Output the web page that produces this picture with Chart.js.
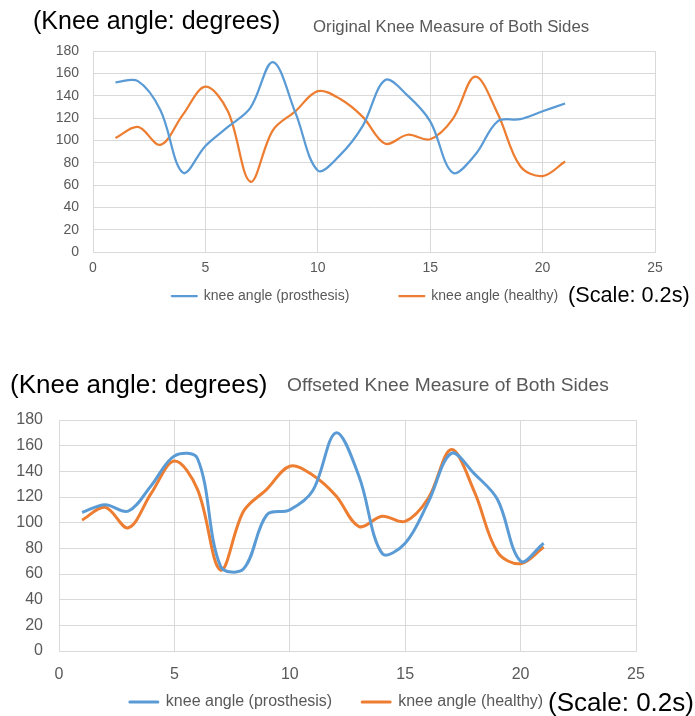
<!DOCTYPE html>
<html>
<head>
<meta charset="utf-8">
<title>Knee angle</title>
<script src="https://cdn.jsdelivr.net/npm/chart.js@4.4.1/dist/chart.umd.min.js"></script>
<style>
  html, body { margin: 0; background: #fff; overflow: hidden; }
  #page { position: relative; width: 695px; height: 716px; overflow: hidden; background: #fff;
          font-family: "Liberation Sans", Arial, sans-serif; }
  #page canvas { position: absolute; left: 0; }
  .lbl { position: absolute; white-space: nowrap; line-height: 1; }
</style>
</head>
<body>
<div id="page">
  <canvas id="chart1" width="695" height="356" style="top:0"></canvas>
  <canvas id="chart2" width="695" height="358" style="top:385px"></canvas>

  <div class="lbl" style="left:33px; top:8px; font-size:25px; color:#000">(Knee angle: degrees)</div>
  <div class="lbl" style="left:313px; top:19px; font-size:16.8px; color:#595959">Original Knee Measure of Both Sides</div>
  <div class="lbl" style="left:568px; top:284px; font-size:21.7px; color:#000">(Scale: 0.2s)</div>

  <div class="lbl" style="left:10px; top:371px; font-size:26px; color:#000">(Knee angle: degrees)</div>
  <div class="lbl" style="left:287px; top:375px; font-size:19.2px; color:#595959">Offseted Knee Measure of Both Sides</div>
  <div class="lbl" style="left:548px; top:689px; font-size:26px; color:#000">(Scale: 0.2s)</div>
</div>

<script>
"use strict";

// sample index (x axis, one step = 0.2 s)
const steps = [1, 2, 3, 4, 5, 6, 7, 8, 9, 10, 11, 12, 13, 14, 15, 16, 17, 18, 19, 20, 21];
const seriesNames = ["knee angle (prosthesis)", "knee angle (healthy)"];

// knee angles in degrees
const prosthesisOriginal = [152, 153, 127, 71, 95, 112, 129, 170, 125, 73, 87, 113, 154, 140, 117, 71, 87, 117, 119, 126, 133];
const prosthesisOffset = [108, 114, 109, 129, 152, 150, 66, 64, 106, 110, 125, 170, 136, 76, 84, 116, 154, 138, 118, 70, 84];
const healthy = [102, 112, 96, 123, 148, 126, 63, 109, 126, 144, 137, 121, 97, 105, 101, 119, 157, 124, 77, 68, 81];

const xTicks = { min: 0, max: 25, step: 5 };
const yTicks = { min: 0, max: 180, step: 20 };

const blue = "#5B9BD5";
const orange = "#ED7D31";
const grey = "#595959";
const gridGrey = "#d9d9d9";

Chart.defaults.font.family = "'Liberation Sans', Arial, sans-serif";

// move the legend row where excel put it
const legendNudge = {
  id: "legendNudge",
  afterLayout(chart, args, opts) {
    const lg = chart.legend;
    lg.left += opts.dx;
    lg.right += opts.dx;
    lg.top += opts.dy;
    lg.bottom += opts.dy;
  },
};

function points(values) {
  return steps.map((x, i) => ({ x: x, y: values[i] }));
}

function kneeChart(id, prosthesis, st) {
  return new Chart(document.getElementById(id), {
    type: "line",
    data: {
      datasets: [
        {
          label: seriesNames[0],
          data: points(prosthesis),
          borderColor: blue,
          backgroundColor: blue,
          borderWidth: st.line,
          borderJoinStyle: "round",
          pointRadius: 0,
          tension: 0.35,
        },
        {
          label: seriesNames[1],
          data: points(healthy),
          borderColor: orange,
          backgroundColor: orange,
          borderWidth: st.line,
          borderJoinStyle: "round",
          pointRadius: 0,
          tension: 0.35,
        },
      ],
    },
    options: {
      responsive: false,
      animation: false,
      devicePixelRatio: 1,
      layout: { padding: { top: st.top, right: st.right, bottom: 0, left: 0 } },
      scales: {
        x: {
          type: "linear",
          min: xTicks.min,
          max: xTicks.max,
          ticks: { stepSize: xTicks.step, padding: st.xPad, color: grey, font: { size: st.tick } },
          grid: { color: gridGrey, drawTicks: false },
          border: { color: gridGrey },
          afterFit: (s) => { s.height = st.xHeight; },
        },
        y: {
          min: yTicks.min,
          max: yTicks.max,
          ticks: { stepSize: yTicks.step, padding: st.yPad, color: grey, font: { size: st.tick } },
          grid: { color: gridGrey, drawTicks: false },
          border: { color: gridGrey },
          afterFit: (s) => { s.width = st.left; },
        },
      },
      plugins: {
        legend: {
          position: "bottom",
          fullSize: false,
          labels: {
            boxWidth: st.box,
            boxHeight: 0,
            padding: st.gap,
            color: grey,
            font: { size: st.legend },
          },
        },
        tooltip: { enabled: false },
        legendNudge: { dx: st.dx, dy: st.dy },
      },
    },
    plugins: [legendNudge],
  });
}

kneeChart("chart1", prosthesisOriginal, {
  top: 51, right: 40, left: 93, line: 2.25, tick: 14, xPad: 8, yPad: 14, xHeight: 30,
  legend: 14, box: 25, gap: 50, dx: -9, dy: -43,
});

kneeChart("chart2", prosthesisOffset, {
  top: 35, right: 59, left: 59, line: 3, tick: 16, xPad: 14, yPad: 16, xHeight: 36,
  legend: 16, box: 28, gap: 30, dx: -11, dy: -23,
});
</script>
</body>
</html>
